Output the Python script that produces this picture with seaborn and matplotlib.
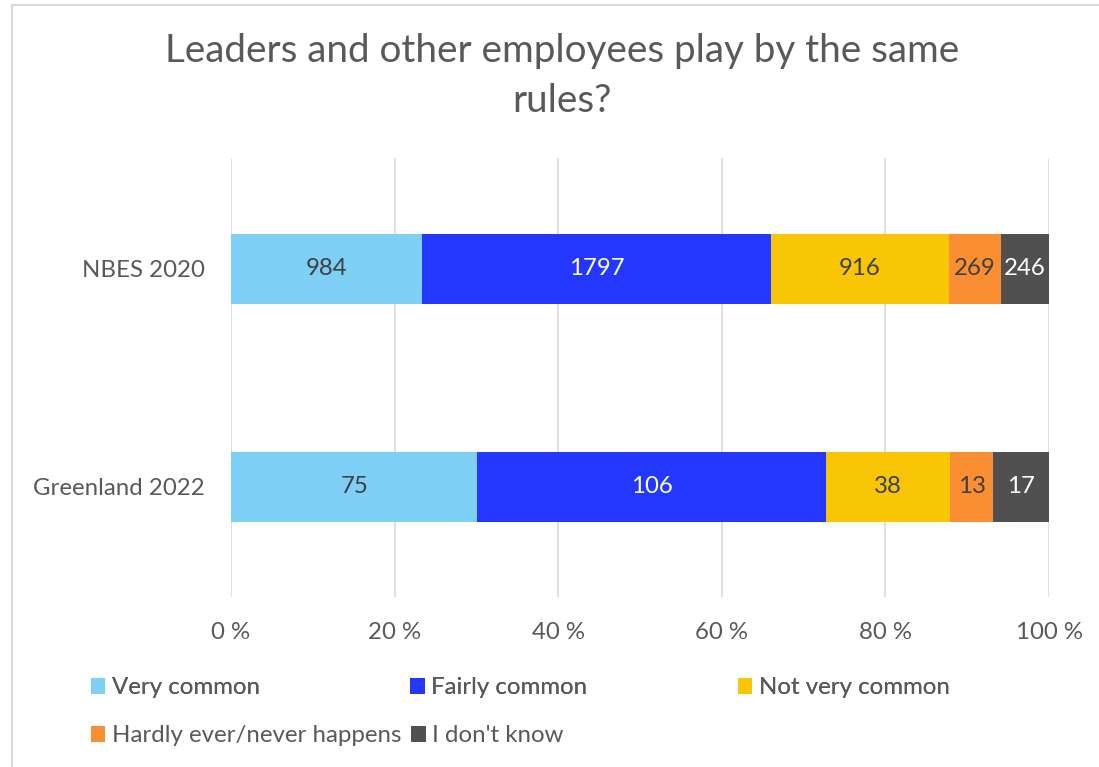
import matplotlib
matplotlib.use("Agg")
import matplotlib.pyplot as plt
from matplotlib.patches import Rectangle, Patch
import numpy as np
import pandas as pd
import seaborn as sns

# Survey responses per group
groups = ["NBES 2020", "Greenland 2022"]
categories = ["Very common", "Fairly common", "Not very common",
              "Hardly ever/never happens", "I don't know"]
nbes_2020 = [984, 1797, 916, 269, 246]
greenland_2022 = [75, 106, 38, 13, 17]
tick_labels = ["0 %", "20 %", "40 %", "60 %", "80 %", "100 %"]

colors = ["#7DCFF6", "#2337FF", "#F8C604", "#F98F32", "#505050"]
label_colors = ["#404040", "#FFFFFF", "#404040", "#404040", "#FFFFFF"]
text_grey = "#595959"
fs = 17.3

sns.set_theme(style="white")
plt.rcParams["font.family"] = ["Lato", "DejaVu Sans"]

counts = pd.DataFrame([nbes_2020, greenland_2022], index=groups, columns=categories)
shares = counts.div(counts.sum(axis=1), axis=0) * 100
cum = shares.cumsum(axis=1)

fig = plt.figure(figsize=(10.99, 7.67), dpi=100)
ax = fig.add_axes([231 / 1099, 1 - 597 / 767, (1049 - 231) / 1099, (597 - 158) / 767])

# chart frame
fig.patches.append(Rectangle((11.5 / 1099, -0.1), 1.2, 1 - 4.5 / 767 + 0.1,
                             transform=fig.transFigure, fill=False,
                             edgecolor="#D9D9D9", linewidth=1.6, zorder=0))

# stacked bars: draw cumulative totals from the outermost segment inwards
for i in range(len(categories) - 1, -1, -1):
    df = pd.DataFrame({"group": groups, "value": cum.iloc[:, i].values})
    sns.barplot(data=df, y="group", x="value", color=colors[i], orient="h",
                width=0.32, saturation=1, ax=ax, zorder=2, linewidth=0)

# value labels centred in each segment
for gi, g in enumerate(groups):
    for ci, c in enumerate(categories):
        left = cum.loc[g].iloc[ci] - shares.loc[g, c]
        ax.text(left + shares.loc[g, c] / 2, gi, str(counts.loc[g, c]),
                ha="center", va="center", fontsize=fs, color=label_colors[ci],
                zorder=3)

ax.set_xlim(0, 100)
ax.set_ylim(1.505, -0.509)
ax.set_xticks(np.arange(0, 101, 20))
ax.set_xticklabels(tick_labels)
ax.set_xlabel("")
ax.set_ylabel("")
ax.tick_params(axis="x", length=0, pad=18, labelsize=fs, labelcolor=text_grey)
ax.tick_params(axis="y", length=0, pad=19, labelsize=fs, labelcolor=text_grey)
ax.xaxis.grid(True, color="#D9D9D9", linewidth=1.2, zorder=0)
ax.yaxis.grid(False)
ax.set_axisbelow(True)
for s in ax.spines.values():
    s.set_visible(False)
ax.set_facecolor("none")

fig.text(562 / 1099, 1 - 51 / 767, "Leaders and other employees play by the same",
         ha="center", va="center", fontsize=27.8, color=text_grey)
fig.text(562 / 1099, 1 - 101 / 767, "rules?",
         ha="center", va="center", fontsize=27.8, color=text_grey)

handles = [Patch(facecolor=c, edgecolor="none") for c in colors]
legend_kw = dict(frameon=False, loc="center left", fontsize=fs,
                 labelcolor=text_grey, handlelength=0.6, handleheight=0.6,
                 handletextpad=0.28, borderaxespad=0, borderpad=0)
leg1 = fig.legend(handles[:3], categories[:3], ncol=3, columnspacing=6.25,
                  bbox_to_anchor=(91 / 1099, 1 - 688 / 767), **legend_kw)
fig.add_artist(leg1)
fig.legend(handles[3:], categories[3:], ncol=2, columnspacing=0.4,
           bbox_to_anchor=(91 / 1099, 1 - 736 / 767), **legend_kw)

fig.savefig("out.png", dpi=100)
